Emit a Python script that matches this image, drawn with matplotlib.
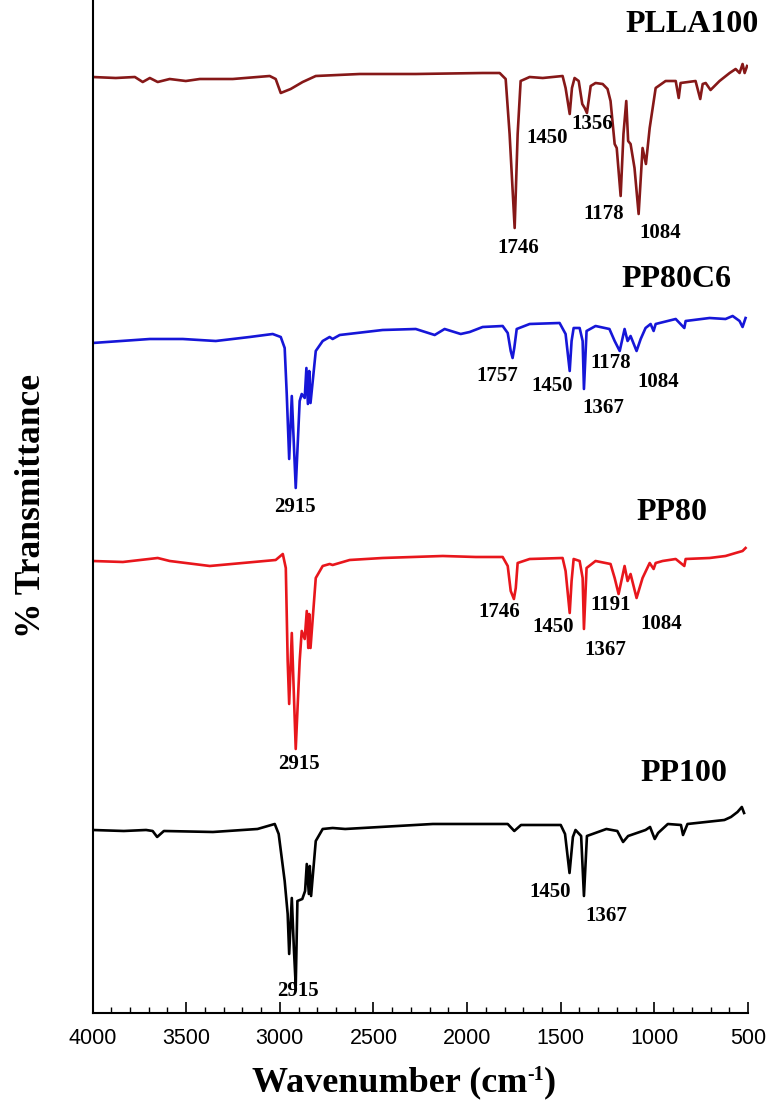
import matplotlib
matplotlib.use("Agg")
import matplotlib.pyplot as plt
from matplotlib.ticker import MultipleLocator

SERIF = "Liberation Serif"
SANS = "Liberation Sans"

# wavenumber (cm-1) and offset transmittance (arbitrary units)
PLLA100_WN = [4000, 3876, 3774, 3732, 3694, 3652, 3588, 3502, 3427, 3251, 3054, 3022, 2995, 2942,
              2878, 2808, 2573, 2274, 1917, 1826, 1794, 1773, 1746, 1730, 1714, 1666, 1596, 1490,
              1474, 1452, 1440, 1426, 1404, 1385, 1372, 1360, 1340, 1314, 1276, 1250, 1234, 1212,
              1201, 1180, 1165, 1150, 1140, 1127, 1106, 1084, 1063, 1045, 1025, 993, 940, 886, 870,
              860, 780, 755, 742, 726, 700, 652, 598, 566, 545, 529, 518, 505]
PLLA100_T = [936, 935, 936, 931, 935, 931, 934, 932, 934, 934, 937, 934, 920, 924, 931, 937, 939,
             939, 940, 940, 934, 879, 785, 879, 932, 936, 935, 937, 925, 899, 925, 935, 932, 909,
             905, 900, 927, 930, 929, 924, 912, 869, 865, 817, 879, 912, 872, 869, 845, 799, 865,
             849, 885, 925, 932, 932, 915, 930, 932, 914, 929, 930, 923, 932, 940, 944, 940, 949,
             940, 947]

PP80C6_WN = [4000, 3694, 3518, 3342, 3161, 3038, 2995, 2974, 2963, 2950, 2936, 2915, 2894, 2883,
             2867, 2858, 2850, 2843, 2836, 2808, 2771, 2734, 2718, 2680, 2451, 2274, 2173, 2120,
             2034, 1986, 1917, 1810, 1783, 1767, 1757, 1748, 1735, 1666, 1506, 1474, 1452, 1442,
             1431, 1399, 1383, 1376, 1362, 1314, 1240, 1212, 1185, 1159, 1143, 1127, 1095, 1073,
             1047, 1020, 1004, 993, 972, 886, 840, 833, 705, 620, 582, 545, 529, 513]
PP80C6_T = [670, 674, 674, 672, 676, 679, 676, 665, 619, 554, 617, 525, 612, 619, 615, 645, 609,
            642, 610, 662, 672, 676, 674, 678, 683, 684, 678, 684, 679, 681, 686, 687, 680, 662,
            655, 665, 684, 689, 690, 679, 642, 672, 685, 685, 672, 624, 682, 687, 684, 672, 662,
            684, 672, 677, 662, 674, 685, 689, 682, 689, 690, 694, 685, 692, 695, 694, 697, 692,
            686, 695]

PP80_WN = [4000, 3838, 3652, 3588, 3374, 3198, 3022, 2984, 2968, 2958, 2950, 2936, 2915, 2894,
           2883, 2867, 2856, 2848, 2843, 2836, 2808, 2771, 2734, 2718, 2627, 2451, 2130, 1954,
           1810, 1783, 1767, 1750, 1740, 1730, 1666, 1490, 1474, 1452, 1442, 1431, 1399, 1383,
           1376, 1362, 1314, 1234, 1212, 1191, 1159, 1143, 1127, 1095, 1063, 1025, 1004, 993, 956,
           886, 840, 833, 705, 620, 566, 529, 513]
PP80_T = [452, 451, 455, 452, 447, 450, 453, 459, 445, 352, 309, 380, 264, 352, 382, 374, 402,
          365, 399, 365, 435, 447, 449, 448, 453, 455, 457, 456, 456, 447, 422, 414, 425, 450,
          454, 455, 442, 400, 432, 454, 452, 435, 384, 445, 452, 449, 435, 419, 447, 432, 439,
          415, 435, 450, 444, 450, 452, 454, 447, 454, 455, 457, 460, 462, 465]

PP100_WN = [4000, 3833, 3714, 3679, 3655, 3619, 3357, 3119, 3027, 3006, 2974, 2958, 2950, 2936,
            2925, 2915, 2906, 2880, 2865, 2856, 2845, 2840, 2833, 2808, 2771, 2718, 2651, 2183,
            1783, 1748, 1712, 1500, 1477, 1453, 1435, 1421, 1391, 1376, 1360, 1256, 1198, 1167,
            1140, 1047, 1023, 998, 980, 928, 858, 847, 823, 626, 591, 556, 533, 521]
PP100_T = [183, 182, 183, 182, 176, 182, 181, 184, 189, 179, 132, 99, 59, 115, 65, 27, 112, 114,
           122, 149, 119, 147, 117, 172, 184, 185, 184, 189, 189, 182, 188, 188, 179, 140, 176,
           183, 177, 117, 177, 184, 182, 171, 177, 183, 186, 174, 180, 189, 188, 178, 189, 193,
           196, 201, 206, 200]

SAMPLES = ["PLLA100", "PP80C6", "PP80", "PP100"]
COLORS = ["#861818", "#1616d8", "#e8161c", "#000000"]

PEAK_LABELS = {
    "PLLA100": ["1746", "1450", "1356", "1178", "1084"],
    "PP80C6": ["1757", "1450", "1367", "1178", "1084", "2915"],
    "PP80": ["1746", "1450", "1367", "1191", "1084", "2915"],
    "PP100": ["1450", "1367", "2915"],
}

# where each text sits on the plot (wavenumber, height)
TITLE_POS = {"PLLA100": (801, 988), "PP80C6": (881, 733), "PP80": (908, 500), "PP100": (844, 239)}
LABEL_POS = {
    "PLLA100": [(1725, 765), (1570, 875), (1330, 889), (1271, 799), (967, 780)],
    "PP80C6": [(1837, 637), (1548, 627), (1271, 605), (1234, 650), (977, 631), (2920, 506)],
    "PP80": [(1826, 401), (1538, 386), (1260, 363), (1234, 408), (961, 389), (2899, 249)],
    "PP100": [(1559, 121), (1255, 97), (2904, 22)],
}


def draw_xlabel(fig, x_center, y_center, size=26):
    # "Wavenumber (cm" + small raised "-1" + ")", laid out piece by piece
    renderer = fig.canvas.get_renderer()
    parts = [("Wavenumber (cm", size, 0), ("-1", size * 0.55, 11), (")", size, 0)]
    texts = []
    for s, fs, rise in parts:
        t = fig.text(0, 0, s, family=SERIF, fontweight="bold", fontsize=fs,
                     ha="left", va="baseline")
        texts.append((t, rise))
    widths = [t.get_window_extent(renderer).width for t, _ in texts]
    x = x_center - sum(widths) / 2
    for (t, rise), w in zip(texts, widths):
        t.set_transform(fig.dpi_scale_trans)
        t.set_position((x / fig.dpi, (fig.bbox.height - y_center - 9 + rise) / fig.dpi))
        x += w


def main():
    spectra = {
        "PLLA100": (PLLA100_WN, PLLA100_T),
        "PP80C6": (PP80C6_WN, PP80C6_T),
        "PP80": (PP80_WN, PP80_T),
        "PP100": (PP100_WN, PP100_T),
    }

    fig = plt.figure(figsize=(7.66, 11.06), dpi=100)
    ax = fig.add_axes([0.1208, 0.0841, 0.8557, 0.9159])

    for name, color in zip(SAMPLES, COLORS):
        wn, t = spectra[name]
        ax.plot(wn, t, color=color, linewidth=1.9, solid_joinstyle="round")
        tx, ty = TITLE_POS[name]
        ax.text(tx, ty, name, family=SERIF, fontweight="bold", fontsize=23,
                ha="center", va="center")
        for label, (lx, ly) in zip(PEAK_LABELS[name], LABEL_POS[name]):
            ax.text(lx, ly, label, family=SERIF, fontweight="bold", fontsize=15,
                    ha="center", va="center")

    ax.set_xlim(4000, 500)
    ax.set_ylim(0, 1013)
    ax.set_yticks([])
    ax.xaxis.set_major_locator(MultipleLocator(500))
    ax.xaxis.set_minor_locator(MultipleLocator(100))
    ax.tick_params(axis="x", which="major", direction="in", length=8, width=1.2, pad=11,
                   labelsize=15.5)
    ax.tick_params(axis="x", which="minor", direction="in", length=4.5, width=1.0)
    for lab in ax.get_xticklabels():
        lab.set_family(SANS)

    ax.spines["top"].set_visible(False)
    ax.spines["right"].set_visible(False)
    ax.spines["left"].set_linewidth(1.5)
    ax.spines["bottom"].set_linewidth(1.5)

    ax.set_ylabel("% Transmittance", family=SERIF, fontweight="bold", fontsize=25.5)
    ax.yaxis.set_label_coords(-0.068, 0.5)

    draw_xlabel(fig, 404, 1082)

    fig.savefig("out.png", dpi=100)


if __name__ == "__main__":
    main()
